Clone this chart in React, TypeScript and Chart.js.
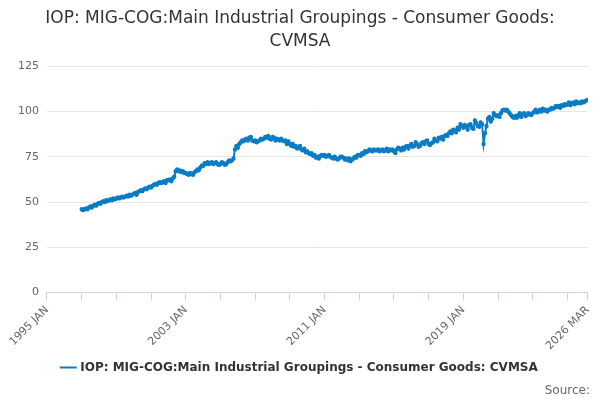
import { useEffect, useRef } from "react";
import { Chart, registerables } from "chart.js";

Chart.register(...registerables);

const TITLE = ["IOP: MIG-COG:Main Industrial Groupings - Consumer Goods:", "CVMSA"];
const SERIES_LABEL = "IOP: MIG-COG:Main Industrial Groupings - Consumer Goods: CVMSA";

// monthly values, Jan 1997 .. Mar 2026
const START_YEAR = 1997;
const values = [
  46, 45.5, 46, 46.5, 46, 47, 47.5, 47, 48, 48.5, 48, 49,
  49.5, 49, 50, 50.5, 50, 51, 50.5, 51, 51.5, 51, 52, 51.5,
  52, 52.5, 52, 52.5, 53, 52.5, 53, 53.5, 53, 54, 53.5, 54,
  54.5, 55, 54, 55.5, 56, 56.5, 56, 57, 57.5, 57, 58, 58.5,
  58, 59, 59.5, 60, 59.5, 60.5, 61, 60.5, 61, 61.5, 60.5, 62,
  62, 62.5, 61.5, 63, 64, 67, 68, 67, 67.5, 66.5, 67, 66,
  66, 65.5, 65, 66, 65.5, 65, 66.5, 67, 68, 67.5, 69, 70,
  70, 71.5, 71, 72, 71, 71.5, 72, 71, 71.5, 72, 71, 70.5,
  71, 72, 71.5, 70.5, 71, 72, 73, 72.5, 73, 74, 79, 81,
  80, 82, 83, 84, 83.5, 84.5, 85, 84, 85.5, 86, 84, 83.5,
  84, 83, 83.5, 84, 85, 84.5, 85, 86, 85.5, 86.5, 85, 84.5,
  86, 85.5, 84, 85, 84.5, 84, 85, 84, 83.5, 84, 82, 83.5,
  82, 81, 82, 80.5, 81, 79.5, 80, 81, 79, 78.5, 79.5, 77.5,
  78, 77, 76.5, 77, 75.5, 76, 74.5, 75, 74, 75.5, 76, 75.5,
  76, 75, 75.5, 76, 75, 74.5, 74, 75, 74, 73.5, 74, 75,
  75, 74.5, 73.5, 74, 73, 74, 72.5, 73.5, 74, 75, 74.5, 76,
  76, 75.5, 77, 76.5, 78, 77.5, 78, 79, 78.5, 78, 79, 78.5,
  78.5, 79, 78, 78.5, 79, 78, 78.5, 79.5, 78, 79, 78.5, 79,
  78, 77, 79, 80, 79.5, 78.5, 80, 79, 80.5, 81, 79.5, 81,
  82, 80.5, 81, 83, 82, 80.5, 81, 82.5, 83, 82, 83.5, 84,
  82, 81.5, 82.5, 83, 85, 84, 83.5, 85.5, 85, 86, 84.5, 86.5,
  87, 86.5, 88, 89, 88, 90, 89.5, 88.5, 91, 90, 93, 92,
  91, 92.5, 91.5, 90, 92.5, 93, 91, 90.5, 95, 93.5, 92, 91.5,
  94, 93, 82, 88, 92, 96, 97, 94.5, 96, 99, 98, 97.5,
  98, 97, 99, 100.5, 101, 100.5, 101, 100, 99, 98, 97, 96.5,
  97.5, 96.5, 98, 99, 97, 98.5, 99, 97.5, 98, 99, 98.5, 98,
  99, 100, 101, 99.5, 100, 101, 100, 101.5, 100.5, 101, 100, 101,
  101, 102, 101.5, 102, 103, 102.5, 103, 102, 103.5, 103, 104, 103.5,
  104, 105, 103.5, 104.5, 105, 104, 105.5, 104.5, 105, 104.5, 105.5, 105,
  105.5, 106, 106.5,
];

const tickYears = [1995, 1997, 1999, 2001, 2003, 2005, 2007, 2009, 2011, 2013, 2015, 2017, 2019, 2021, 2023, 2025];
const labelYears = [1995, 2003, 2011, 2019];
const X_END = 2026 + 2 / 12;
const yTicks = [0, 25, 50, 75, 100, 125];

const App = () => {
  const ref = useRef<HTMLCanvasElement | null>(null);

  useEffect(() => {
    if (!ref.current) return;
    const points = values.map((v, i) => ({ x: START_YEAR + i / 12, y: v }));
    const chart = new Chart(ref.current, {
      type: "line",
      data: {
        datasets: [
          {
            label: SERIES_LABEL,
            data: points,
            borderColor: "#0b7cc4",
            backgroundColor: "#0b7cc4",
            borderWidth: 2,
            pointRadius: 1.2,
            pointHoverRadius: 2,
          },
        ],
      },
      options: {
        animation: false,
        responsive: false,
        layout: { padding: { left: 10, right: 10, top: 8, bottom: 2 } },
        plugins: {
          title: {
            display: true,
            text: TITLE,
            color: "#333",
            font: { family: "DejaVu Sans", size: 17, weight: "normal", lineHeight: 1.3 },
            padding: { top: 0, bottom: 14 },
          },
          legend: {
            position: "bottom",
            labels: {
              usePointStyle: true,
              pointStyle: "line",
              color: "#333",
              font: { family: "DejaVu Sans", size: 12, weight: "bold" },
              padding: 6,
            },
          },
          subtitle: {
            display: true,
            text: "Source:",
            position: "bottom",
            align: "end",
            color: "#666",
            font: { family: "DejaVu Sans", size: 12 },
            padding: { top: 0, bottom: 0 },
          },
          tooltip: { enabled: false },
        },
        scales: {
          x: {
            type: "linear",
            min: 1995,
            max: X_END,
            afterBuildTicks: (axis) => {
              axis.ticks = [...tickYears, X_END].map((v) => ({ value: v }));
            },
            ticks: {
              autoSkip: false,
              maxRotation: 45,
              minRotation: 45,
              color: "#666",
              font: { family: "DejaVu Sans", size: 11 },
              callback: (v) => {
                const n = Number(v);
                if (Math.abs(n - X_END) < 0.01) return "2026 MAR";
                return labelYears.includes(n) ? `${n} JAN` : "";
              },
            },
            grid: { drawOnChartArea: false, drawTicks: true, tickLength: 8, color: "#ccd6eb" },
            border: { color: "#ccd6eb" },
          },
          y: {
            min: 0,
            max: 125,
            afterBuildTicks: (axis) => {
              axis.ticks = yTicks.map((v) => ({ value: v }));
            },
            ticks: { color: "#666", font: { family: "DejaVu Sans", size: 11 }, padding: 8 },
            grid: { color: "#e6e6e6", drawTicks: false },
            border: { display: false },
          },
        },
      },
    });
    return () => chart.destroy();
  }, []);

  return (
    <canvas
      ref={ref}
      width={600}
      height={400}
      style={{ position: "absolute", left: 0, top: 0 }}
    />
  );
};

export default App;
